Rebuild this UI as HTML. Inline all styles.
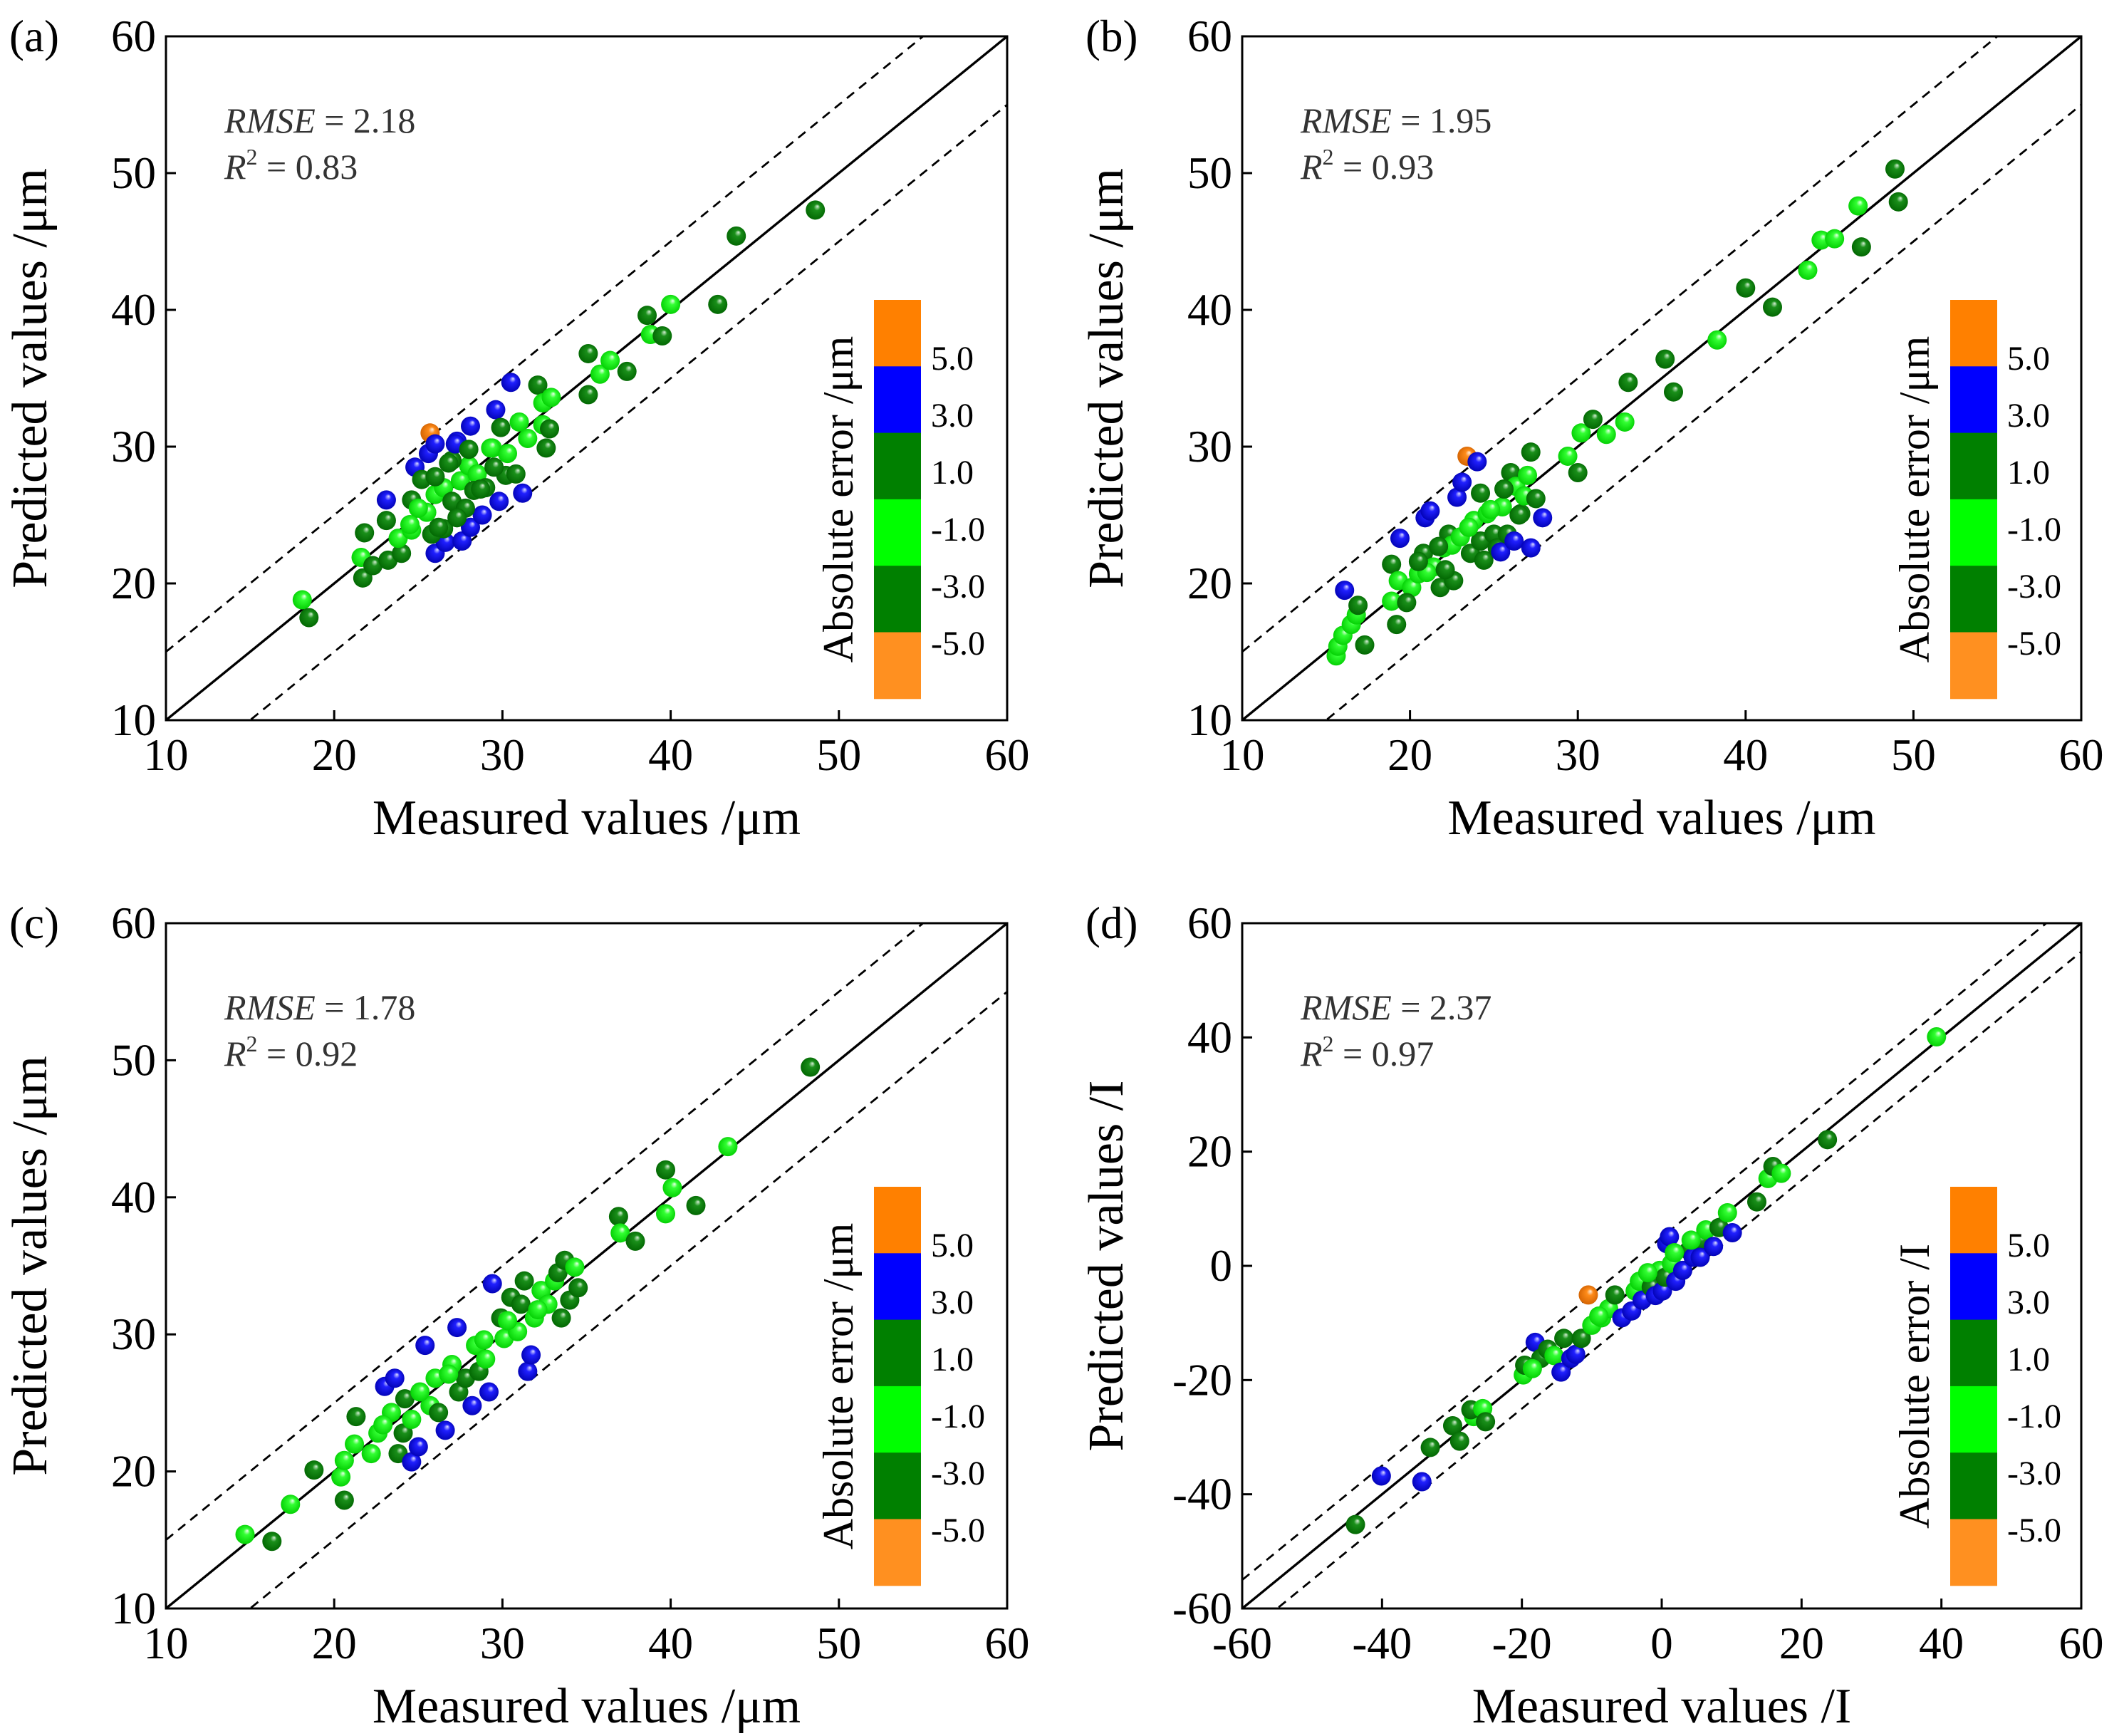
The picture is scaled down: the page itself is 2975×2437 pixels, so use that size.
<!DOCTYPE html>
<html><head><meta charset="utf-8"><style>
html,body{margin:0;padding:0;background:#fff}
svg{display:block}
text{font-family:"Liberation Serif","Times New Roman",serif}
</style></head><body>
<svg id="fig" width="2975" height="2437" viewBox="0 0 2975 2437" xmlns="http://www.w3.org/2000/svg" font-family="Liberation Serif, serif">
<defs>
<radialGradient id="g-light" cx="0.5" cy="0.5" r="0.55" fx="0.62" fy="0.3"><stop offset="0" stop-color="#eaffea"/><stop offset="0.3" stop-color="#33ff33"/><stop offset="1" stop-color="#00cc00"/></radialGradient>
<radialGradient id="g-dark" cx="0.5" cy="0.5" r="0.55" fx="0.62" fy="0.3"><stop offset="0" stop-color="#d8f0d8"/><stop offset="0.3" stop-color="#1a8f1a"/><stop offset="1" stop-color="#006400"/></radialGradient>
<radialGradient id="g-blue" cx="0.5" cy="0.5" r="0.55" fx="0.62" fy="0.3"><stop offset="0" stop-color="#e0e0ff"/><stop offset="0.3" stop-color="#2020ff"/><stop offset="1" stop-color="#0000b0"/></radialGradient>
<radialGradient id="g-orange" cx="0.5" cy="0.5" r="0.55" fx="0.62" fy="0.3"><stop offset="0" stop-color="#fff0e0"/><stop offset="0.3" stop-color="#ff8c1a"/><stop offset="1" stop-color="#d06000"/></radialGradient>
</defs>
</svg>
<script>
// ---- data (measured, predicted) ----
const measA=[18.1,18.5,21.6,21.7,21.8,22.3,23.1,23.1,23.2,24.0,23.8,24.6,24.6,24.8,25.2,25.6,25.7,26.0,26.0,26.6,27.6,28.1,28.8,29.8,31.2,30.5,28.1,27.3,29.6,29.9,29.4,30.3,30.2,30.8,31.0,31.5,32.1,32.4,32.9,32.4,32.8,32.6,35.1,35.1,35.8,36.4,37.4,38.6,38.8,39.5,40.0,42.8,43.9,48.6,25.5,26,26.5,27,27.5,28,28.5,27,26.5,27.8,28.3,29,29.5,26,25,24.5,27.2,28,26.8,25.8,26.2,27.3,28.7,29.3];
const predA=[18.8,17.5,21.9,20.4,23.7,21.3,26.1,24.6,21.7,22.2,23.3,23.9,26.1,28.5,27.6,29.5,31.0,30.2,22.2,23.0,23.1,24.1,25.0,26.0,26.6,34.7,31.5,30.4,32.7,31.4,29.9,29.5,27.9,28.0,31.8,30.6,34.5,33.2,33.6,31.6,31.3,29.9,36.8,33.8,35.3,36.3,35.5,39.6,38.2,38.1,40.4,40.4,45.4,47.3,25.2,26.5,27,26,27.5,28.6,28,29,24,25.5,26.8,27,28.5,27.8,25.5,24.3,30.2,29.8,28.8,23.6,24.1,24.8,26.9,29.9];
const measB=[15.6,15.7,16.0,16.1,16.5,16.8,16.9,17.3,18.9,18.9,19.2,19.3,19.4,20.1,20.5,20.8,20.9,21.2,21.4,21.8,22.0,22.3,22.6,22.8,23.1,23.4,23.6,23.8,24.0,24.2,24.2,24.4,24.6,25.0,25.2,25.4,25.5,25.8,26.0,26.2,26.3,26.6,26.8,27.0,27.2,27.2,27.9,29.4,30.0,30.2,30.9,31.7,32.8,33.0,35.2,35.7,38.3,40.0,41.6,43.7,44.5,45.3,46.7,46.9,48.9,49.1,21,22.5,23,19.8,20.5,24.8,25.6,26.5,27.5,22.1,23.5,21.7];
const predB=[14.7,15.4,16.2,19.5,17.0,17.7,18.4,15.5,18.7,21.4,17.0,20.2,23.3,19.7,20.7,22.2,24.8,25.3,21.2,19.7,22.6,23.6,20.2,26.3,27.4,29.3,22.2,24.6,28.9,26.6,23.1,21.7,25.1,23.6,22.6,22.3,25.6,23.6,28.1,23.1,27.1,25.1,26.4,27.9,22.6,29.6,24.8,29.3,28.1,31.0,32.0,30.9,31.8,34.7,36.4,34.0,37.8,41.6,40.2,42.9,45.1,45.2,47.6,44.6,50.3,47.9,20.8,22.8,23.4,18.6,21.6,25.4,26.9,25.0,26.2,21.0,24.1,22.7];
const measC=[14.7,16.3,17.4,18.8,20.4,20.6,20.6,21.3,21.2,22.2,22.6,23.0,23.6,23.4,23.8,24.1,24.2,24.6,24.6,25.0,25.4,25.7,26.0,26.2,26.6,27.0,27.3,27.4,27.8,28.2,28.4,28.6,29.0,29.4,29.2,29.9,30.1,30.5,30.9,31.1,31.5,31.7,31.3,31.9,32.3,32.7,33.1,33.3,33.5,33.7,34.0,34.5,34.3,36.9,37.0,37.9,39.7,40.1,39.7,41.5,43.4,48.3,22.9,25.1,26.8,28.9,30.3,32.1];
const predC=[15.4,14.9,17.6,20.1,19.6,20.8,17.9,24.0,22.0,21.3,22.8,26.2,26.8,24.3,21.3,22.8,25.3,23.8,20.7,21.8,29.2,24.8,26.8,24.3,23.0,27.8,30.5,25.8,26.8,24.8,29.2,27.3,28.2,33.7,25.8,31.2,29.7,32.7,30.2,32.2,27.3,28.5,33.9,31.2,33.2,32.2,33.9,34.5,31.2,35.4,32.5,33.4,34.9,38.6,37.4,36.8,42.0,40.7,38.8,39.4,43.7,49.5,23.4,25.8,27.1,29.6,31.0,31.8];
const measD=[-43.8,-40.1,-34.3,-33.1,-29.9,-28.9,-26.9,-27.3,-25.6,-25.2,-19.8,-19.6,-18.1,-17.3,-16.3,-15.4,-14.4,-14.0,-13.0,-12.3,-11.5,-10.5,-10.0,-8.6,-7.6,-6.7,-5.7,-4.3,-3.8,-3.2,-2.8,-1.8,-1.5,-0.9,-0.3,0.1,0.5,0.7,1.1,1.4,2.0,3.0,3.9,4.5,5.5,6.3,5.5,7.4,8.2,9.4,10.1,13.6,15.2,15.9,17.1,23.7,39.3,-18.5,-9,-2,1.8,4.2];
const predD=[-45.3,-36.8,-37.8,-31.8,-28.0,-30.7,-26.4,-25.2,-25.0,-27.3,-19.1,-17.4,-13.4,-16.2,-14.6,-15.7,-18.6,-12.7,-16.2,-15.5,-12.7,-5.1,-10.4,-9.1,-7.5,-5.1,-9.1,-7.9,-4.4,-2.7,-6.0,-1.3,-3.7,-5.2,-0.8,-4.4,-2.0,3.9,5.1,0.4,-2.7,-0.8,2.7,1.5,4.4,6.3,1.5,3.4,6.7,9.3,5.8,11.2,15.3,17.4,16.2,22.1,40.1,-18.0,-8.8,-1.2,2.3,4.5];
const ticksMicro=[10,20,30,40,50,60];
const ticksD=[-60,-40,-20,0,20,40,60];
const cbLabels=["5.0","3.0","1.0","-1.0","-3.0","-5.0"];
const stats=[["2.18","0.83"],["1.95","0.93"],["1.78","0.92"],["2.37","0.97"]];

const NS="http://www.w3.org/2000/svg";
const svg=document.getElementById('fig');
function mk(tag,attrs,parent,txt){const e=document.createElementNS(NS,tag);for(const k in attrs)e.setAttribute(k,attrs[k]);if(tag==='text')e.setAttribute('font-family','Liberation Serif, serif');if(txt!==undefined)e.textContent=txt;(parent||svg).appendChild(e);return e;}

const panels=[
 {id:'a',L:233,R:1414,T:51,B:1011,min:10,max:60,ticks:ticksMicro,unit:'/\u03bcm',mx:measA,py:predA,st:stats[0]},
 {id:'b',L:1744,R:2922,T:51,B:1011,min:10,max:60,ticks:ticksMicro,unit:'/\u03bcm',mx:measB,py:predB,st:stats[1]},
 {id:'c',L:233,R:1414,T:1296,B:2258,min:10,max:60,ticks:ticksMicro,unit:'/\u03bcm',mx:measC,py:predC,st:stats[2]},
 {id:'d',L:1744,R:2922,T:1296,B:2258,min:-60,max:60,ticks:ticksD,unit:'/I',mx:measD,py:predD,st:stats[3]}
];

function colorOf(e){const a=Math.abs(e);if(a<1)return'light';if(a<3)return'dark';if(a<5)return'blue';return'orange';}

panels.forEach(p=>{
 const g=mk('g',{});
 
 
 const sx=v=>p.L+(v-p.min)/(p.max-p.min)*(p.R-p.L);
 const sy=v=>p.B-(v-p.min)/(p.max-p.min)*(p.B-p.T);
 const clip='clip-'+p.id;
 const cp=mk('clipPath',{id:clip},g);mk('rect',{x:p.L,y:p.T,width:p.R-p.L,height:p.B-p.T},cp);
 const lg=mk('g',{'clip-path':'url(#'+clip+')'},g);
 const d1=mk('line',{x1:sx(p.min),y1:sy(p.min),x2:sx(p.max),y2:sy(p.max),stroke:'#000','stroke-width':3.4},lg);
 
 
 [5,-5].forEach(o=>{
  const dl=mk('line',{x1:sx(p.min),y1:sy(p.min+o),x2:sx(p.max),y2:sy(p.max+o),stroke:'#000','stroke-width':2.8,'stroke-dasharray':'13 9'},lg);
  
  
 });
 const pg=mk('g',{'clip-path':'url(#'+clip+')'},g);
 p.mx.forEach((m,i)=>{
  const v=p.py[i];
  const c=mk('circle',{cx:sx(m),cy:sy(v),r:13.5,fill:'url(#g-'+colorOf(v-m)+')'},pg);
  
  
 });
 const fr=mk('rect',{x:p.L,y:p.T,width:p.R-p.L,height:p.B-p.T,fill:'none',stroke:'#000','stroke-width':3},g);
 
 
 p.ticks.forEach(t=>{
  mk('line',{x1:sx(t),y1:p.B,x2:sx(t),y2:p.B-14,stroke:'#000','stroke-width':3},g);
  mk('line',{x1:p.L,y1:sy(t),x2:p.L+14,y2:sy(t),stroke:'#000','stroke-width':3},g);
  const xl=mk('text',{x:sx(t),y:p.B+70,'font-size':63,'text-anchor':'middle'},g,String(t));
  
  
  const yl=mk('text',{x:p.L-14,y:sy(t)+21,'font-size':63,'text-anchor':'end'},g,String(t));
  
  
 });
 const pl=mk('text',{x:p.L-220,y:p.T+21,'font-size':63},g,'('+p.id+')');
 
 
 const xt=mk('text',{x:(p.L+p.R)/2,y:p.B+160,'font-size':70,'text-anchor':'middle'},g,'Measured values '+p.unit);
 
 
 const ycx=p.L-168,ycy=(p.T+p.B)/2;
 const yt=mk('text',{x:ycx,y:ycy,'font-size':70,'text-anchor':'middle',transform:'rotate(-90 '+ycx+' '+ycy+')'},g,'Predicted values '+p.unit);
 
 
 const s1=mk('text',{x:p.L+82,y:p.T+135,'font-size':50,fill:'#333'},g);
 
 
 mk('tspan',{'font-style':'italic'},s1,'RMSE');mk('tspan',{},s1,' = '+p.st[0]);
 const s2=mk('text',{x:p.L+82,y:p.T+200,'font-size':50,fill:'#333'},g);
 
 
 mk('tspan',{'font-style':'italic'},s2,'R');mk('tspan',{dy:-20,'font-size':32},s2,'2');mk('tspan',{dy:20},s2,' = '+p.st[1]);
 const cbx=p.L+994,cby=p.T+370,cbw=66,seg=93.3;
 const cols=['#ff8000','#0000ff','#008000','#00ff00','#008000','#0000ff'];
 const cb=mk('g',{},g);
 
 
 for(let k=0;k<6;k++){
  const colk=k===5?'#ff8c1a':cols[k];
  mk('rect',{x:cbx,y:cby+k*seg,width:cbw,height:seg+0.5,fill:k===5?'#ff9020':cols[k]},cb);
 }
 // blue lower is segment index 5? order: orange, blue, dark, light, dark, blue, orange -> 7? use 6 equal-ish
 cbLabels.forEach((lb,k)=>{
  const t=mk('text',{x:cbx+cbw+14,y:cby+82+k*80+16,'font-size':48},cb,lb);
  
  
 });
 const tcx=cbx-30,tcy=cby+280;
 const ct=mk('text',{x:tcx,y:tcy,'font-size':60,'text-anchor':'middle',transform:'rotate(-90 '+tcx+' '+tcy+')'},cb,'Absolute error '+p.unit);
 
 
});
</script>
</body></html>
